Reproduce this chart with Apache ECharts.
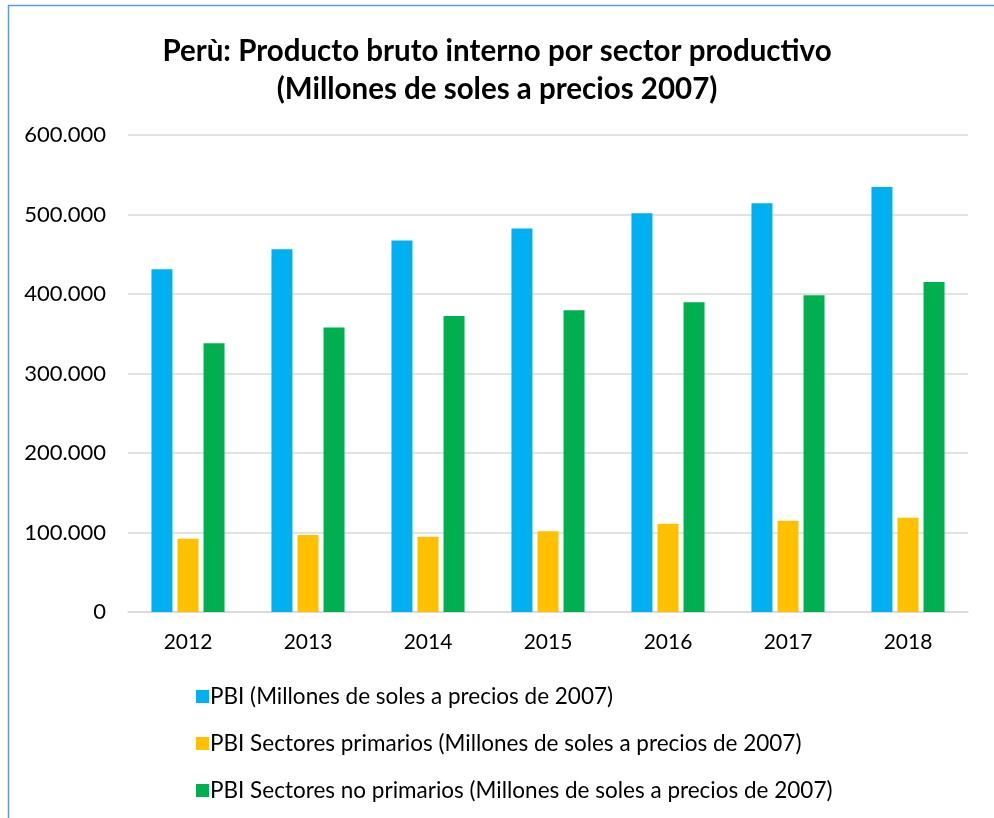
<!DOCTYPE html>
<html><head><meta charset="utf-8">
<script src="https://cdn.jsdelivr.net/npm/echarts@6/dist/echarts.min.js"></script>
<style>html,body{margin:0;padding:0;background:#fff}#c{width:994px;height:818px}</style>
</head><body><div id="c"></div>
<script>
const categories = ['2012','2013','2014','2015','2016','2017','2018'];
const seriesNames = [
  'PBI (Millones de soles a precios de 2007)',
  'PBI Sectores primarios (Millones de soles a precios de 2007)',
  'PBI Sectores no primarios (Millones de soles a precios de 2007)'
];
const pbi = [431199, 456435, 467308, 482506, 501581, 514215, 534665];
const primarios = [92000, 96900, 94800, 101500, 111000, 114900, 118600];
const noPrimarios = [338000, 358000, 372300, 379500, 389500, 398400, 415000];
const colors = ['#00B0F0', '#FFC000', '#00B050'];
const FONT = 'Lato, "Open Sans", sans-serif';

const chart = echarts.init(document.getElementById('c'));
function fmt(v){ return String(v).replace(/\B(?=(\d{3})+(?!\d))/g, '.'); }
const data = [pbi, primarios, noPrimarios];
chart.setOption({
  animation: false,
  textStyle: {fontFamily: FONT},
  title: {
    text: 'Perù: Producto bruto interno por sector productivo\n(Millones de soles a precios 2007)',
    left: 'center', top: 27,
    textStyle: {fontFamily: FONT, fontWeight: 'bold', fontSize: 29.5, color: '#000', lineHeight: 38}
  },
  graphic: [{type:'rect', shape:{x:8.5,y:5.5,width:1100,height:1000}, style:{fill:'none', stroke:'#5B9BD5', lineWidth:1.5}, silent:true}],
  legend: {
    orient: 'vertical', left: 191, top: 680, itemGap: 24,
    itemWidth: 13, itemHeight: 13, icon: 'rect',
    textStyle: {fontFamily: FONT, fontSize: 22.5, lineHeight: 22, color: '#000', padding:[0,0,0,-4]},
    data: seriesNames
  },
  grid: {left: 128, right: 26, top: 135, bottom: 206, containLabel: false},
  xAxis: {
    type: 'category', data: categories,
    axisLine: {lineStyle: {color: '#d9d9d9', width: 1.5}},
    axisTick: {show: false},
    axisLabel: {fontFamily: FONT, fontSize: 21, color: '#000', margin: 20}
  },
  yAxis: {
    type: 'value', min: 0, max: 600000, interval: 100000,
    axisLine: {show: false}, axisTick: {show: false},
    splitLine: {lineStyle: {color: '#d9d9d9', width: 1.5}},
    axisLabel: {fontFamily: FONT, fontSize: 22, color: '#000', margin: 22, formatter: fmt}
  },
  series: seriesNames.map((n, i) => ({
    name: n, type: 'bar', data: data[i], barWidth: 21, barGap: '24%',
    itemStyle: {color: colors[i]}
  }))
});
</script></body></html>
